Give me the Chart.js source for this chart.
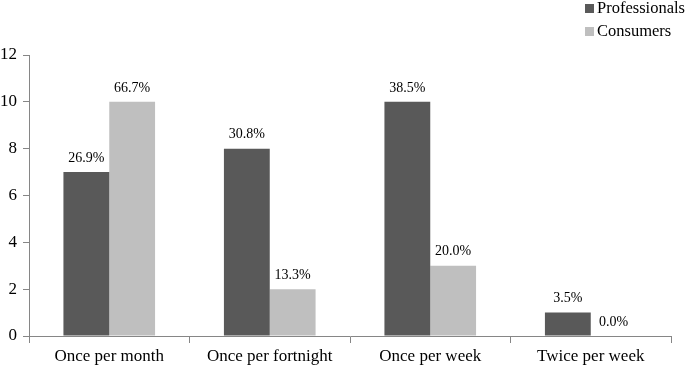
<!DOCTYPE html>
<html>
<head>
<meta charset="utf-8">
<script src="https://cdn.jsdelivr.net/npm/chart.js@4"></script>
<style>
  body { margin: 0; background: #fff; }
  #wrap { position: relative; width: 685px; height: 365px; overflow: hidden; }
  .legend { position: absolute; left: 585px; font: 16.5px "Liberation Serif", serif; color: #000; white-space: nowrap; }
  .legend span { display: inline-block; width: 9px; height: 9px; margin-right: 3px; }
</style>
</head>
<body>
<div id="wrap">
  <canvas id="chart" width="685" height="365"></canvas>
  <div class="legend" style="top:-2px"><span style="background:#595959"></span>Professionals</div>
  <div class="legend" style="top:21px"><span style="background:#bfbfbf"></span>Consumers</div>
</div>
<script>
const categories = ["Once per month", "Once per fortnight", "Once per week", "Twice per week"];
const professionals = [7, 8, 10, 1];
const consumers = [10, 2, 3, 0];
const professionalsPct = ["26.9%", "30.8%", "38.5%", "3.5%"];
const consumersPct = ["66.7%", "13.3%", "20.0%", "0.0%"];

const serif = '"Liberation Serif", "Times New Roman", serif';

const barLabels = {
  id: "barLabels",
  afterDatasetsDraw(chart) {
    const ctx = chart.ctx;
    ctx.save();
    ctx.font = "14px " + serif;
    ctx.fillStyle = "#000";
    ctx.textAlign = "center";
    ctx.textBaseline = "bottom";
    const texts = [professionalsPct, consumersPct];
    chart.data.datasets.forEach((ds, i) => {
      chart.getDatasetMeta(i).data.forEach((bar, j) => {
        ctx.fillText(texts[i][j], bar.x, bar.y - 7);
      });
    });
    ctx.restore();
  },
};

const chartEl = document.getElementById("chart");
new Chart(chartEl, {
  type: "bar",
  data: {
    labels: categories,
    datasets: [
      { label: "Professionals", backgroundColor: "#595959", data: professionals },
      { label: "Consumers", backgroundColor: "#bfbfbf", data: consumers },
    ],
  },
  options: {
    responsive: false,
    animation: false,
    layout: { padding: { top: 55, right: 14, left: 0, bottom: 0 } },
    datasets: { bar: { categoryPercentage: 0.571, barPercentage: 1 } },
    plugins: { legend: { display: false }, tooltip: { enabled: false } },
    scales: {
      x: {
        afterFit: (s) => { s.height = 29; },
        border: { color: "#868686", width: 1 },
        grid: { drawOnChartArea: false, tickLength: 7, color: "#868686", offset: true },
        ticks: { color: "#000", font: { family: serif, size: 17 }, padding: 3 },
      },
      y: {
        min: 0,
        max: 12,
        afterFit: (s) => { s.width = 29; },
        border: { color: "#868686", width: 1 },
        grid: { drawOnChartArea: false, tickLength: 6, color: "#868686" },
        ticks: { stepSize: 2, color: "#000", font: { family: serif, size: 17 }, padding: 6 },
      },
    },
  },
  plugins: [barLabels],
});
</script>
</body>
</html>
